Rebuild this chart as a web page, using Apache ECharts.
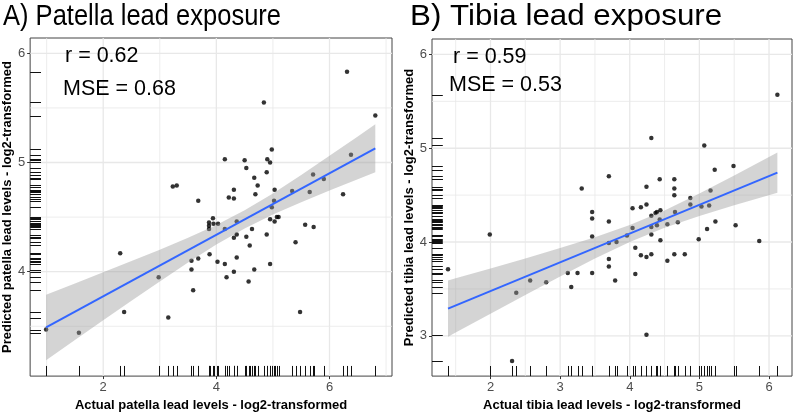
<!DOCTYPE html>
<html><head><meta charset="utf-8">
<script src="https://cdn.jsdelivr.net/npm/echarts@6/dist/echarts.min.js"></script>
<style>html,body{margin:0;padding:0;background:#fff}#c{width:800px;height:417px}</style>
</head><body><div id="c"></div>
<script>
// ---------- Panel A: patella ----------
const patellaActual = [6.31,4.84,6.81,4.98,6.38,4.15,4.50,4.90,4.95,4.53,4.89,4.67,4.73,5.71,5.90,3.23,3.30,3.68,4.31,4.22,4.31,4.69,5.03,5.02,5.34,5.65,6.24,4.98,3.94,3.87,3.87,3.87,3.95,4.03,4.15,4.36,4.95,5.03,5.07,5.10,4.63,4.36,4.31,4.53,4.89,4.59,5.57,5.72,5.40,3.88,4.02,4.15,4.36,4.95,4.31,4.67,4.18,4.57,5.48,2.30,3.56,3.68,3.56,2.98,3.59,2.37,3.15,0.99,1.57];
const patellaPredicted = [5.83,5.55,5.43,5.12,5.07,5.03,5.02,5.03,5.00,4.95,4.91,4.86,4.79,4.89,4.85,4.78,4.79,4.65,4.75,4.68,4.67,4.71,4.75,4.65,4.74,4.73,4.71,4.59,4.49,4.45,4.42,4.39,4.44,4.44,4.39,4.46,4.48,4.46,4.50,4.50,4.39,4.34,4.31,4.32,4.34,4.24,4.43,4.41,4.27,4.16,4.09,4.07,4.13,4.07,4.00,4.02,3.95,3.91,3.63,4.17,4.10,4.12,4.02,3.95,3.83,3.63,3.58,3.47,3.44];
const patellaFitX = [0.99, 6.81];
const patellaFitY = [3.49, 5.13];
const patellaBandX = [0.99, 1.5, 2, 2.5, 3, 3.5, 4, 4.5, 5, 5.5, 6, 6.5, 6.81];
const patellaBandLow = [3.19, 3.375, 3.556, 3.735, 3.911, 4.084, 4.248, 4.395, 4.523, 4.636, 4.743, 4.847, 4.91];
const patellaBandHigh = [3.79, 3.893, 3.994, 4.097, 4.201, 4.310, 4.428, 4.563, 4.717, 4.886, 5.061, 5.239, 5.35];
const patellaXTicks = [2, 4, 6];
const patellaXMinor = [1, 3, 5, 7];
const patellaYTicks = [4, 5, 6];
const patellaYMinor = [3.5, 4.5, 5.5];

// ---------- Panel B: tibia ----------
const tibiaActual = [6.12,4.31,5.07,5.49,5.22,3.70,4.43,4.64,3.31,4.24,4.64,4.64,5.16,4.87,4.87,5.14,5.03,4.04,4.16,4.24,3.70,4.31,4.37,4.39,4.44,4.65,4.43,4.39,4.31,4.04,4.54,4.69,4.31,4.44,5.11,5.23,5.52,4.99,5.86,3.96,3.70,3.81,4.08,3.70,3.70,3.79,4.08,4.16,4.24,4.31,4.54,4.64,4.79,4.24,3.46,3.46,3.46,1.99,1.39,3.11,3.25,3.46,3.16,2.57,2.80,2.37,2.31];
const tibiaPredicted = [5.57,5.11,5.03,4.81,4.77,4.70,4.67,4.67,4.57,4.59,4.57,4.50,4.55,4.47,4.40,4.39,4.38,4.36,4.37,4.40,4.22,4.28,4.31,4.32,4.34,4.32,4.24,4.18,4.16,4.15,4.19,4.21,4.08,4.02,4.14,4.22,4.18,4.03,4.01,4.07,3.99,4.00,3.94,3.82,3.74,3.59,3.66,3.86,3.84,3.87,3.80,3.87,3.87,3.01,4.32,4.25,4.06,4.08,3.71,3.67,3.67,3.67,3.52,3.59,3.57,3.46,2.73];
const tibiaFitX = [1.39, 6.12];
const tibiaFitY = [3.29, 4.74];
const tibiaBandX = [1.39, 1.5, 2, 2.5, 3, 3.5, 4, 4.5, 5, 5.5, 6.12];
const tibiaBandLow = [2.99, 3.035, 3.236, 3.435, 3.633, 3.823, 3.999, 4.151, 4.277, 4.391, 4.525];
const tibiaBandHigh = [3.59, 3.613, 3.718, 3.825, 3.935, 4.051, 4.181, 4.337, 4.517, 4.709, 4.955];
const tibiaXTicks = [2, 3, 4, 5, 6];
const tibiaXMinor = [1.5, 2.5, 3.5, 4.5, 5.5];
const tibiaYTicks = [3, 4, 5, 6];
const tibiaYMinor = [3.5, 4.5, 5.5];

const titles = ['A) Patella lead exposure', 'B) Tibia lead exposure'];
const xNames = ['Actual patella lead levels - log2-transformed', 'Actual tibia lead levels - log2-transformed'];
const yNames = ['Predicted patella lead levels - log2-transformed', 'Predicted tibia lead levels - log2-transformed'];
const statR = ['r = 0.62', 'r = 0.59'];
const statMSE = ['MSE = 0.68', 'MSE = 0.53'];

const chart = echarts.init(document.getElementById('c'), null, {renderer: 'canvas'});
const GRID = '#E8E8E8';
const FONT = 'Arial, "Liberation Sans", sans-serif';

function xAxisDef(gi, min, max, ticks, name) {
  return {
    type: 'value', gridIndex: gi, min: min, max: max,
    axisLine: {show: false},
    axisTick: {show: true, length: 3, lineStyle: {color: '#333'}, customValues: ticks},
    axisLabel: {customValues: ticks, color: '#4D4D4D', fontSize: 13, margin: 5, fontFamily: FONT},
    splitLine: {show: false},
    name: name, nameLocation: 'middle', nameGap: 22,
    nameTextStyle: {fontWeight: 'bold', fontSize: 13, color: '#000', fontFamily: FONT}
  };
}
function yAxisDef(gi, min, max, ticks, name, gap) {
  return {
    type: 'value', gridIndex: gi, min: min, max: max,
    axisLine: {show: false},
    axisTick: {show: true, length: 3, lineStyle: {color: '#333'}, customValues: ticks},
    axisLabel: {customValues: ticks, color: '#4D4D4D', fontSize: 13, margin: 5, fontFamily: FONT},
    splitLine: {show: false},
    name: name, nameLocation: 'middle', nameGap: gap,
    nameTextStyle: {fontWeight: 'bold', fontSize: 13, color: '#000', fontFamily: FONT}
  };
}

function vLines(ai, vals, width) {
  return {
    type: 'custom', xAxisIndex: ai, yAxisIndex: ai, silent: true, z: 0,
    data: vals.map(v => [v]), encode: {x: 0},
    renderItem: (params, api) => {
      const cs = params.coordSys;
      const x = api.coord([api.value(0), 0])[0];
      return {type: 'line', shape: {x1: x, y1: cs.y, x2: x, y2: cs.y + cs.height},
        style: {stroke: GRID, lineWidth: width}};
    }
  };
}
function hLines(ai, vals, width) {
  return {
    type: 'custom', xAxisIndex: ai, yAxisIndex: ai, silent: true, z: 0,
    data: vals.map(v => [v]), encode: {y: 0},
    renderItem: (params, api) => {
      const cs = params.coordSys;
      const y = api.coord([0, api.value(0)])[1];
      return {type: 'line', shape: {x1: cs.x, y1: y, x2: cs.x + cs.width, y2: y},
        style: {stroke: GRID, lineWidth: width}};
    }
  };
}
function band(ai, xs, lo, hi) {
  return {
    type: 'custom', xAxisIndex: ai, yAxisIndex: ai, silent: true, z: 3,
    data: xs.map((x, i) => [x, lo[i], hi[i]]), encode: {x: 0, y: [1, 2]},
    renderItem: (params, api) => {
      if (params.dataIndex !== 0) return null;
      const pts = [];
      for (let i = 0; i < xs.length; i++) pts.push(api.coord([xs[i], hi[i]]));
      for (let i = xs.length - 1; i >= 0; i--) pts.push(api.coord([xs[i], lo[i]]));
      return {type: 'polygon', shape: {points: pts}, style: {fill: 'rgba(153,153,153,0.42)'}};
    }
  };
}
function xRug(ai, xs, ys) {
  return {
    type: 'custom', xAxisIndex: ai, yAxisIndex: ai, silent: true, z: 5,
    data: xs.map((x, i) => [x, ys[i]]), encode: {x: 0, y: 1},
    renderItem: (params, api) => {
      const cs = params.coordSys;
      const x = Math.round(api.coord([api.value(0), api.value(1)])[0]) + 0.5;
      const len = cs.height * 0.03;
      return {type: 'line', shape: {x1: x, y1: cs.y + cs.height, x2: x, y2: cs.y + cs.height - len},
        style: {stroke: '#111', lineWidth: 1}};
    }
  };
}
function yRug(ai, xs, ys) {
  return {
    type: 'custom', xAxisIndex: ai, yAxisIndex: ai, silent: true, z: 5,
    data: xs.map((x, i) => [x, ys[i]]), encode: {x: 0, y: 1},
    renderItem: (params, api) => {
      const cs = params.coordSys;
      const y = Math.round(api.coord([api.value(0), api.value(1)])[1]) + 0.5;
      const len = cs.width * 0.03;
      return {type: 'line', shape: {x1: cs.x, y1: y, x2: cs.x + len, y2: y},
        style: {stroke: '#111', lineWidth: 1}};
    }
  };
}
function scatter(ai, xs, ys) {
  return {type: 'scatter', xAxisIndex: ai, yAxisIndex: ai, z: 2, silent: true,
    symbolSize: 4.5, itemStyle: {color: '#000'},
    data: xs.map((x, i) => [x, ys[i]])};
}
function fit(ai, xs, ys) {
  return {type: 'line', xAxisIndex: ai, yAxisIndex: ai, z: 4, silent: true,
    showSymbol: false, lineStyle: {color: '#3366FF', width: 2},
    data: xs.map((x, i) => [x, ys[i]])};
}

function txt(s, x, y, size, sx) {
  return {type: 'text', x: x, y: y, z: 10, scaleX: sx || 1,
    style: {text: s, font: size + 'px ' + FONT, fill: '#000', verticalAlign: 'middle', align: 'left'}};
}

const option = {
  animation: false,
  backgroundColor: '#fff',
  grid: [
    {left: 28, top: 38, width: 364, height: 343, show: true, borderColor: '#444', borderWidth: 1, backgroundColor: '#fff'},
    {left: 432, top: 39, width: 360, height: 343, show: true, borderColor: '#444', borderWidth: 1, backgroundColor: '#fff'}
  ],
  xAxis: [
    xAxisDef(0, 0.708, 7.105, patellaXTicks, xNames[0]),
    xAxisDef(1, 1.16, 6.33, tibiaXTicks, xNames[1])
  ],
  yAxis: [
    yAxisDef(0, 3.044, 6.14, patellaYTicks, yNames[0], 11),
    yAxisDef(1, 2.57, 6.165, tibiaYTicks, yNames[1], 10)
  ],
  series: [
    vLines(0, patellaXMinor, 0.8), vLines(0, patellaXTicks, 1.3),
    hLines(0, patellaYMinor, 0.8), hLines(0, patellaYTicks, 1.3),
    vLines(1, tibiaXMinor, 0.8), vLines(1, tibiaXTicks, 1.3),
    hLines(1, tibiaYMinor, 0.8), hLines(1, tibiaYTicks, 1.3),
    scatter(0, patellaActual, patellaPredicted),
    scatter(1, tibiaActual, tibiaPredicted),
    band(0, patellaBandX, patellaBandLow, patellaBandHigh),
    band(1, tibiaBandX, tibiaBandLow, tibiaBandHigh),
    fit(0, patellaFitX, patellaFitY),
    fit(1, tibiaFitX, tibiaFitY),
    xRug(0, patellaActual, patellaPredicted), yRug(0, patellaActual, patellaPredicted),
    xRug(1, tibiaActual, tibiaPredicted), yRug(1, tibiaActual, tibiaPredicted)
  ],
  graphic: [
    txt(titles[0], 3, 17, 29, 0.88),
    txt(titles[1], 410, 17, 29, 1.08),
    txt(statR[0], 65, 56, 21.5),
    txt(statMSE[0], 63, 89, 21.5),
    txt(statR[1], 453, 57, 21.5),
    txt(statMSE[1], 449, 85, 21.5)
  ]
};
chart.setOption(option);
</script></body></html>
